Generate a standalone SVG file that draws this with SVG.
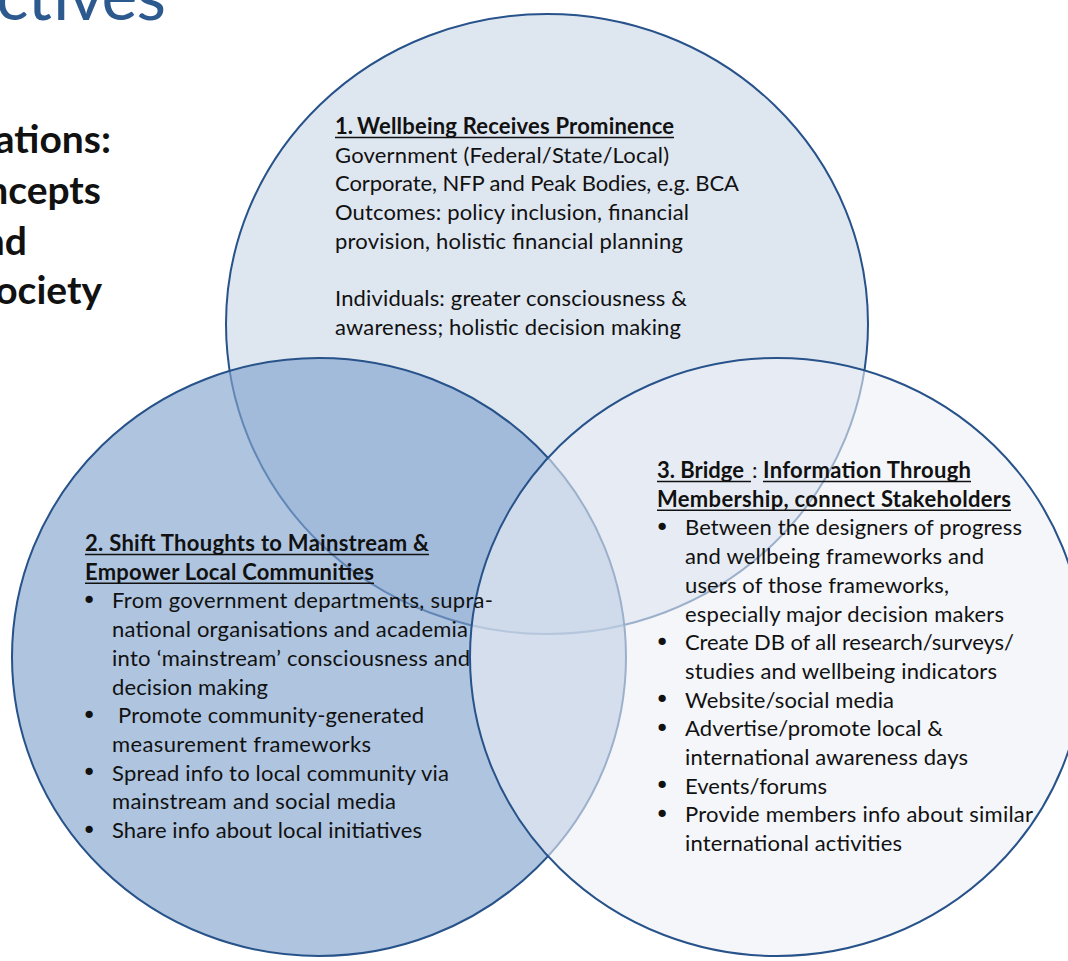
<svg xmlns="http://www.w3.org/2000/svg" width="1068" height="961" viewBox="0 0 1068 961">
  <style>
    .ring { stroke: #27528a; stroke-width: 2; }
    .t { font-family: Lato, "Open Sans", "Liberation Sans", sans-serif; font-size: 22px; fill: #111; }
    .h { font-family: Lato, "Open Sans", "Liberation Sans", sans-serif; font-size: 22px; font-weight: 700; fill: #111; }
    .side { font-family: Lato, "Open Sans", "Liberation Sans", sans-serif; font-size: 39px; font-weight: 700; fill: #111; }
    .title { font-family: Lato, "Open Sans", "Liberation Sans", sans-serif; font-size: 68px; font-weight: 400; fill: #2c5a8e; }
    .ul { stroke: #111; stroke-width: 1.4; }
    .b { font-family: "DejaVu Sans", sans-serif; font-size: 25px; fill: #111; text-anchor: middle; }
  </style>

  <rect width="1068" height="961" fill="#ffffff"/>

  <!-- slide heading and side text, clipped by the page edges -->
  <text class="title" x="-4" y="20" textLength="170">ctives</text>
  <g id="side-text" text-anchor="end">
    <text class="side" x="111" y="153">ations:</text>
    <text class="side" x="101" y="204">ncepts</text>
    <text class="side" x="27" y="255">nd</text>
    <text class="side" x="102" y="304">ociety</text>
  </g>

  <!-- three overlapping circles -->
  <g id="node-1">
    <ellipse class="ring" cx="547" cy="324" rx="321" ry="310" fill="#dee6f0"/>
  </g>
  <g id="node-2">
    <ellipse class="ring" cx="319" cy="657" rx="307" ry="299" fill="#83a5ce" fill-opacity="0.65"/>
  </g>
  <g id="node-3">
    <ellipse class="ring" cx="777" cy="657" rx="307" ry="299" fill="#edf0f7" fill-opacity="0.6"/>
  </g>

  <!-- circle 1 text -->
  <g id="node-1-text">
    <text class="h" x="335" y="134" font-size="17">1.</text>
    <text class="h" x="357" y="134" textLength="317">Wellbeing Receives Prominence</text>
    <line class="ul" x1="335" y1="137.5" x2="674" y2="137.5"/>
    <text class="t" x="335" y="162.7" textLength="334">Government (Federal/State/Local)</text>
    <text class="t" x="335" y="191.4" textLength="404">Corporate, NFP and Peak Bodies, e.g. BCA</text>
    <text class="t" x="335" y="220.1" textLength="354">Outcomes: policy inclusion, financial</text>
    <text class="t" x="335" y="248.8" textLength="348">provision, holistic financial planning</text>
    <text class="t" x="335" y="306.2" textLength="352">Individuals: greater consciousness &amp;</text>
    <text class="t" x="335" y="334.9" textLength="346">awareness; holistic decision making</text>
  </g>

  <!-- circle 2 text -->
  <g id="node-2-text">
    <text class="h" x="85" y="551" textLength="344">2. Shift Thoughts to Mainstream &amp;</text>
    <line class="ul" x1="85" y1="554.5" x2="429" y2="554.5"/>
    <text class="h" x="85" y="579.7" textLength="289">Empower Local Communities</text>
    <line class="ul" x1="85" y1="583.2" x2="374" y2="583.2"/>
    <text class="b" x="89" y="609">•</text>
    <text class="t" x="112" y="608.4" textLength="381">From government departments, supra-</text>
    <text class="t" x="112" y="637.1" textLength="356">national organisations and academia</text>
    <text class="t" x="112" y="665.8" textLength="358">into ‘mainstream’ consciousness and</text>
    <text class="t" x="112" y="694.5" textLength="156">decision making</text>
    <text class="b" x="89" y="724">•</text>
    <text class="t" x="118" y="723.2" textLength="306">Promote community-generated</text>
    <text class="t" x="112" y="751.9" textLength="259">measurement frameworks</text>
    <text class="b" x="89" y="781">•</text>
    <text class="t" x="112" y="780.6" textLength="337">Spread info to local community via</text>
    <text class="t" x="112" y="809.3" textLength="284">mainstream and social media</text>
    <text class="b" x="89" y="839">•</text>
    <text class="t" x="112" y="838" textLength="310">Share info about local initiatives</text>
  </g>

  <!-- circle 3 text -->
  <g id="node-3-text">
    <text class="h" x="657" y="478" textLength="87">3. Bridge</text>
    <line class="ul" x1="657" y1="481.5" x2="751" y2="481.5"/>
    <text class="t" x="752" y="478">:</text>
    <text class="h" x="763" y="478" textLength="208">Information Through</text>
    <line class="ul" x1="763" y1="481.5" x2="971" y2="481.5"/>
    <text class="h" x="657" y="506.7" textLength="354">Membership, connect Stakeholders</text>
    <line class="ul" x1="657" y1="510.2" x2="1011" y2="510.2"/>
    <text class="b" x="662" y="536">•</text>
    <text class="t" x="685" y="535.4" textLength="337">Between the designers of progress</text>
    <text class="t" x="685" y="564.1" textLength="299">and wellbeing frameworks and</text>
    <text class="t" x="685" y="592.8" textLength="264">users of those frameworks,</text>
    <text class="t" x="685" y="621.5" textLength="319">especially major decision makers</text>
    <text class="b" x="662" y="651">•</text>
    <text class="t" x="685" y="650.2" textLength="329">Create DB of all research/surveys/</text>
    <text class="t" x="685" y="678.9" textLength="312">studies and wellbeing indicators</text>
    <text class="b" x="662" y="708">•</text>
    <text class="t" x="685" y="707.6" textLength="209">Website/social media</text>
    <text class="b" x="662" y="737">•</text>
    <text class="t" x="685" y="736.3" textLength="258">Advertise/promote local &amp;</text>
    <text class="t" x="685" y="765" textLength="283">international awareness days</text>
    <text class="b" x="662" y="794">•</text>
    <text class="t" x="685" y="793.7" textLength="142">Events/forums</text>
    <text class="b" x="662" y="823">•</text>
    <text class="t" x="685" y="822.4" textLength="348">Provide members info about similar</text>
    <text class="t" x="685" y="851.1" textLength="217">international activities</text>
  </g>
</svg>
